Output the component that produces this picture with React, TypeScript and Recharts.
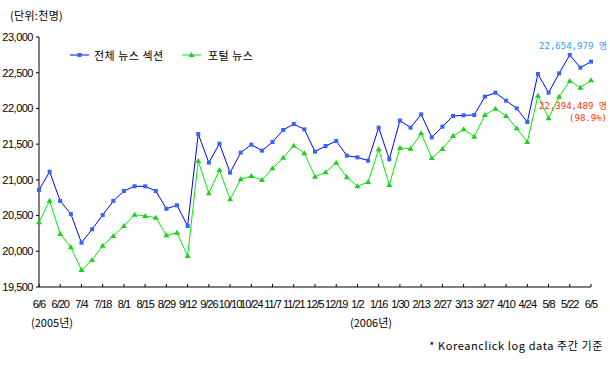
import React from 'react';
import { LineChart, Line, XAxis, YAxis } from 'recharts';

const weeks = ['6/6','6/13','6/20','6/27','7/4','7/11','7/18','7/25','8/1','8/8','8/15','8/22','8/29','9/5','9/12','9/19','9/26','10/3','10/10','10/17','10/24','10/31','11/7','11/14','11/21','11/28','12/5','12/12','12/19','12/26','1/2','1/9','1/16','1/23','1/30','2/6','2/13','2/20','2/27','3/6','3/13','3/20','3/27','4/3','4/10','4/17','4/24','5/1','5/8','5/15','5/22','5/29','6/5'];

const totalNews = [20858, 21114, 20704, 20522, 20120, 20308, 20508, 20704, 20844, 20910, 20910, 20844, 20596, 20644, 20354, 21642, 21241, 21507, 21101, 21381, 21493, 21409, 21530, 21698, 21782, 21707, 21395, 21474, 21544, 21339, 21315, 21269, 21731, 21287, 21829, 21731, 21917, 21595, 21745, 21894, 21903, 21908, 22165, 22221, 22109, 22001, 21810, 22482, 22221, 22491, 22748, 22571, 22655];

const portalNews = [20406, 20708, 20242, 20055, 19738, 19878, 20079, 20214, 20354, 20513, 20494, 20471, 20223, 20261, 19934, 21264, 20811, 21138, 20727, 21007, 21054, 20998, 21161, 21311, 21479, 21371, 21045, 21105, 21241, 21035, 20909, 20970, 21427, 20928, 21446, 21437, 21651, 21306, 21432, 21614, 21707, 21605, 21908, 21997, 21894, 21721, 21530, 22179, 21861, 22165, 22384, 22291, 22394];

const yTicks = [19500, 20000, 20500, 21000, 21500, 22000, 22500, 23000];

const seriesNames = ['전체 뉴스 섹션', '포털 뉴스'];

const data = weeks.map((w, i) => ({ week: w, total: totalNews[i], portal: portalNews[i] }));

const BLUE_LINE = '#0000ff';
const BLUE_DOT = '#3366ff';
const GREEN_LINE = '#00ee00';
const GREEN_DOT = '#22cc22';

const SquareDot = (props: any) => {
  const { cx, cy, index } = props;
  if (cx == null || cy == null) return <g key={index} />;
  return <rect key={index} x={cx - 2} y={cy - 2} width={4} height={4} fill={BLUE_DOT} />;
};

const TriDot = (props: any) => {
  const { cx, cy, index } = props;
  if (cx == null || cy == null) return <g key={index} />;
  return <path key={index} d={`M${cx},${cy - 3} L${cx + 3},${cy + 2} L${cx - 3},${cy + 2} Z`} fill={GREEN_DOT} />;
};

const fmt = (v: number) => v.toLocaleString('en-US');

const KR = '"Noto Sans CJK KR", sans-serif';
const NUM = '"Liberation Sans", Arial, sans-serif';
const MONO = '"DejaVu Sans Mono", "Noto Sans CJK KR", monospace';

export default function App() {
  return (
    <div style={{ position: 'absolute', left: 0, top: 0, width: 610, height: 372, background: '#fff' }}>
      <LineChart width={610} height={372} data={data} margin={{ top: 37, right: 19, bottom: 0, left: 0 }}>
        <XAxis
          dataKey="week"
          height={85}
          interval={1}
          tickSize={-3}
          tickMargin={16}
          axisLine={{ stroke: '#000' }}
          tickLine={{ stroke: '#000' }}
          tick={{ fill: '#000', fontSize: 11, fontFamily: NUM, letterSpacing: -1 }}
        />
        <YAxis
          width={39}
          domain={[19500, 23000]}
          ticks={yTicks}
          tickFormatter={fmt}
          tickSize={3}
          tickMargin={3}
          axisLine={{ stroke: '#000' }}
          tickLine={{ stroke: '#000' }}
          tick={{ fill: '#000', fontSize: 11, fontFamily: NUM, letterSpacing: -0.5 }}
        />
        <Line type="linear" dataKey="total" stroke={BLUE_LINE} strokeWidth={1} dot={SquareDot} activeDot={false} isAnimationActive={false} />
        <Line type="linear" dataKey="portal" stroke={GREEN_LINE} strokeWidth={1} dot={TriDot} activeDot={false} isAnimationActive={false} />
      </LineChart>
      <svg width={610} height={372} style={{ position: 'absolute', left: 0, top: 0, pointerEvents: 'none' }}>
        <text x={10} y={15} fontSize={11} fontFamily={KR} dominantBaseline="central" fill="#000" letterSpacing={0.3}>(단위:천명)</text>
        <line x1={70} y1={55} x2={89} y2={55} stroke={BLUE_LINE} />
        <rect x={77.5} y={53} width={4} height={4} fill={BLUE_DOT} />
        <text x={94} y={55} fontSize={11} fontFamily={KR} dominantBaseline="central" fill="#000" letterSpacing={0.5}>{seriesNames[0]}</text>
        <line x1={182} y1={55} x2={201} y2={55} stroke={GREEN_LINE} />
        <path d="M191.5,52 L194.5,57 L188.5,57 Z" fill={GREEN_DOT} />
        <text x={208} y={55} fontSize={11} fontFamily={KR} dominantBaseline="central" fill="#000" letterSpacing={0.5}>{seriesNames[1]}</text>
        <text x={607} y={46} fontSize={9} fontFamily={MONO} textAnchor="end" dominantBaseline="central" fill="#3399ff">22,654,979 명</text>
        <text x={607} y={106} fontSize={9} fontFamily={MONO} textAnchor="end" dominantBaseline="central" fill="#ff3300">22,394,489 명</text>
        <text x={607} y={118} fontSize={9} fontFamily={MONO} textAnchor="end" dominantBaseline="central" fill="#ff3300">(98.9%)</text>
        <text x={31} y={322} fontSize={11} fontFamily={KR} dominantBaseline="central" fill="#000">(2005년)</text>
        <text x={350} y={322} fontSize={11} fontFamily={KR} dominantBaseline="central" fill="#000">(2006년)</text>
        <text x={603} y={345} fontSize={11} fontFamily={KR} textAnchor="end" dominantBaseline="central" fill="#000" letterSpacing={0.6}>* Koreanclick log data 주간 기준</text>
      </svg>
    </div>
  );
}
